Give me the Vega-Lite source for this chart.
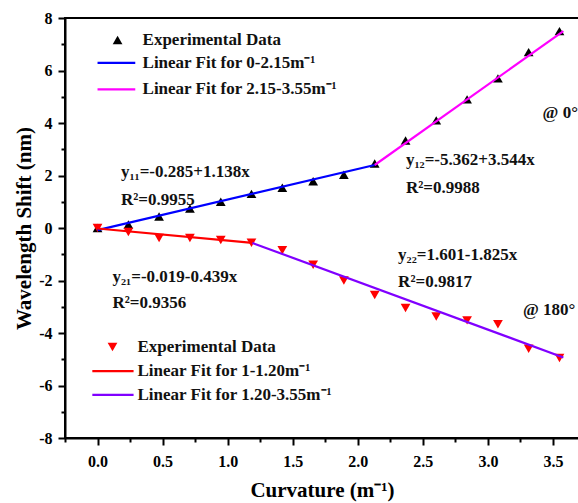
{
  "$schema": "https://vega.github.io/schema/vega-lite/v6.json",
  "width": 514,
  "height": 420,
  "autosize": {"type": "none"},
  "padding": {"left": 65, "top": 18, "right": 0, "bottom": 65},
  "background": "white",
  "config": {
    "view": {"stroke": "black", "strokeWidth": 2},
    "axis": {"grid": false, "domainColor": "black", "tickColor": "black", "labelColor": "black", "titleColor": "black", "domainWidth": 2, "tickWidth": 2, "labelFont": "Liberation Serif", "labelFontWeight": "bold", "labelFontSize": 16, "titleFont": "Liberation Serif", "titleFontWeight": "bold", "titleFontSize": 21}
  },
  "datasets": {
    "pts": [
      {"x": 0, "y": 0, "s": "a"}, {"x": 0.237, "y": 0.13, "s": "a"}, {"x": 0.473, "y": 0.44, "s": "a"}, {"x": 0.71, "y": 0.74, "s": "a"},
      {"x": 0.947, "y": 1.0, "s": "a"}, {"x": 1.183, "y": 1.3, "s": "a"}, {"x": 1.42, "y": 1.53, "s": "a"}, {"x": 1.657, "y": 1.78, "s": "a"},
      {"x": 1.893, "y": 2.03, "s": "a"}, {"x": 2.13, "y": 2.46, "s": "a"}, {"x": 2.367, "y": 3.33, "s": "a"}, {"x": 2.603, "y": 4.1, "s": "a"},
      {"x": 2.84, "y": 4.9, "s": "a"}, {"x": 3.077, "y": 5.7, "s": "a"}, {"x": 3.313, "y": 6.7, "s": "a"}, {"x": 3.55, "y": 7.5, "s": "a"},
      {"x": 0, "y": 0, "s": "b"}, {"x": 0.237, "y": -0.15, "s": "b"}, {"x": 0.473, "y": -0.38, "s": "b"}, {"x": 0.71, "y": -0.38, "s": "b"},
      {"x": 0.947, "y": -0.46, "s": "b"}, {"x": 1.183, "y": -0.56, "s": "b"}, {"x": 1.42, "y": -0.85, "s": "b"}, {"x": 1.657, "y": -1.4, "s": "b"},
      {"x": 1.893, "y": -2.0, "s": "b"}, {"x": 2.13, "y": -2.55, "s": "b"}, {"x": 2.367, "y": -3.05, "s": "b"}, {"x": 2.603, "y": -3.37, "s": "b"},
      {"x": 2.84, "y": -3.52, "s": "b"}, {"x": 3.077, "y": -3.67, "s": "b"}, {"x": 3.313, "y": -4.6, "s": "b"}, {"x": 3.55, "y": -4.95, "s": "b"},
      {"x": 0.154, "y": 7.16, "s": "a"}, {"x": 0.115, "y": -4.53, "s": "b"}
    ],
    "fits": [
      {"x": 0, "y": -0.08, "f": "b", "k": "fit"}, {"x": 2.13, "y": 2.4, "f": "b", "k": "fit"},
      {"x": 2.13, "y": 2.4, "f": "m", "k": "fit"}, {"x": 3.58, "y": 7.5, "f": "m", "k": "fit"},
      {"x": 0, "y": -0.02, "f": "r", "k": "fit"}, {"x": 1.19, "y": -0.57, "f": "r", "k": "fit"},
      {"x": 1.19, "y": -0.57, "f": "p", "k": "fit"}, {"x": 3.58, "y": -4.93, "f": "p", "k": "fit"},
      {"x": 0, "y": 6.29, "f": "b", "k": "key"}, {"x": 0.29, "y": 6.29, "f": "b", "k": "key"},
      {"x": 0, "y": 5.28, "f": "m", "k": "key"}, {"x": 0.29, "y": 5.28, "f": "m", "k": "key"},
      {"x": -0.04, "y": -5.45, "f": "r", "k": "key"}, {"x": 0.277, "y": -5.45, "f": "r", "k": "key"},
      {"x": -0.04, "y": -6.36, "f": "p", "k": "key"}, {"x": 0.277, "y": -6.36, "f": "p", "k": "key"}
    ],
    "labels": [
      {"x": 0.18, "y": 2.13, "t": "y₁₁=-0.285+1.138x"},
      {"x": 0.18, "y": 1.07, "t": "R²=0.9955"},
      {"x": 0.115, "y": -1.87, "t": "y₂₁=-0.019-0.439x"},
      {"x": 0.115, "y": -2.86, "t": "R²=0.9356"},
      {"x": 2.37, "y": 2.59, "t": "y₁₂=-5.362+3.544x"},
      {"x": 2.37, "y": 1.52, "t": "R²=0.9988"},
      {"x": 3.42, "y": 4.38, "t": "@ 0°"},
      {"x": 2.31, "y": -1.03, "t": "y₂₂=1.601-1.825x"},
      {"x": 2.31, "y": -2.06, "t": "R²=0.9817"},
      {"x": 3.27, "y": -3.12, "t": "@ 180°"},
      {"x": 0.346, "y": 7.16, "t": "Experimental Data"},
      {"x": 0.346, "y": 6.29, "t": "Linear Fit for 0-2.15m⁻¹"},
      {"x": 0.346, "y": 5.28, "t": "Linear Fit for 2.15-3.55m⁻¹"},
      {"x": 0.307, "y": -4.53, "t": "Experimental Data"},
      {"x": 0.307, "y": -5.45, "t": "Linear Fit for 1-1.20m⁻¹"},
      {"x": 0.307, "y": -6.36, "t": "Linear Fit for 1.20-3.55m⁻¹"}
    ]
  },
  "resolve": {"scale": {"color": "independent", "shape": "independent"}},
  "encoding": {
    "x": {"field": "x", "type": "quantitative", "scale": {"domain": [-0.25, 3.7], "nice": false, "zero": false},
      "axis": {"orient": "bottom", "values": [-0.25, 0, 0.25, 0.5, 0.75, 1, 1.25, 1.5, 1.75, 2, 2.25, 2.5, 2.75, 3, 3.25, 3.5],
        "labelExpr": "abs(datum.value * 2 - round(datum.value * 2)) < 0.001 ? format(datum.value, '.1f') : ''",
        "tickSize": {"condition": {"test": "abs(datum.value * 2 - round(datum.value * 2)) < 0.001", "value": 7}, "value": 4},
        "labelPadding": 8, "labelFont": "Liberation Serif", "labelFontWeight": "bold", "labelFontSize": 16,
        "title": "Curvature (m⁻¹)", "titleFont": "Liberation Serif", "titleFontWeight": "bold", "titleFontSize": 21, "titlePadding": 10}},
    "y": {"field": "y", "type": "quantitative", "scale": {"domain": [-8, 8], "nice": false, "zero": false},
      "axis": {"orient": "left", "values": [-8, -7, -6, -5, -4, -3, -2, -1, 0, 1, 2, 3, 4, 5, 6, 7, 8],
        "labelExpr": "datum.value % 2 === 0 ? '' + datum.value : ''",
        "tickSize": {"condition": {"test": "datum.value % 2 === 0", "value": 7}, "value": 4},
        "labelPadding": 6, "labelFont": "Liberation Serif", "labelFontWeight": "bold", "labelFontSize": 16,
        "title": "Wavelength Shift (nm)", "titleFont": "Liberation Serif", "titleFontWeight": "bold", "titleFontSize": 21, "titlePadding": 4}}
  },
  "layer": [
    {
      "mark": {"type": "rule", "strokeDash": [7, 5], "strokeWidth": 2, "color": "black"},
      "encoding": {
        "y": {"datum": 0, "type": "quantitative"},
        "x": null
      }
    },
    {
      "data": {"name": "pts"},
      "mark": {"type": "point", "filled": true, "opacity": 1, "size": 95},
      "encoding": {
        "color": {"field": "s", "type": "nominal", "scale": {"domain": ["a", "b"], "range": ["black", "#ff0000"]}, "legend": null},
        "shape": {"field": "s", "type": "nominal", "scale": {"domain": ["a", "b"], "range": ["triangle-up", "triangle-down"]}, "legend": null}
      }
    },
    {
      "data": {"name": "fits"},
      "mark": {"type": "line", "strokeWidth": 2.2},
      "encoding": {
        "color": {"field": "f", "type": "nominal", "scale": {"domain": ["b", "m", "r", "p"], "range": ["#0000ff", "#ff00ff", "#ff0000", "#8000ff"]}, "legend": null},
        "detail": [{"field": "f"}, {"field": "k"}]
      }
    },
    {
      "data": {"name": "labels"},
      "mark": {"type": "text", "align": "left", "baseline": "middle", "font": "Liberation Serif", "fontWeight": "bold", "fontSize": 17, "color": "#111"},
      "encoding": {
        "text": {"field": "t"}
      }
    }
  ]
}
